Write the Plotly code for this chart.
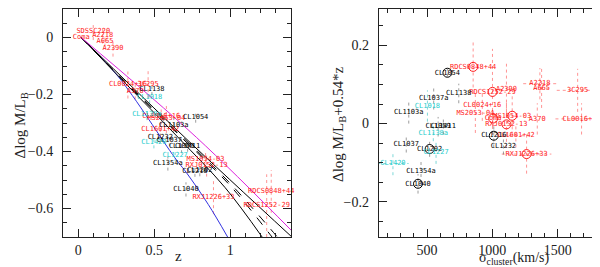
import plotly.graph_objects as go

# ---------------- Left panel data: redshift vs delta log M/L_B ----------------
left_names = ["Coma", "SDSSC220", "A2218", "A665", "A2390", "CL0024+16", "3C295", "A370",
              "MS2053-04", "CL0016+16", "CL1601+42", "MS1054-03", "RXJ0152-13",
              "RXJ1226+33", "RDCS0848+44", "RDCS1252-29",
              "CL1138", "CL1054", "CL1103a", "CL1232", "CL1037", "CL1059", "CL1411",
              "CL1354a", "CL1216", "CL1202", "CL1040",
              "CL1018", "CL1138a", "CL1420", "CL1227"]
left_z = [0.02, 0.099, 0.161, 0.176, 0.229, 0.327, 0.46, 0.375,
          0.58, 0.546, 0.54, 0.838, 0.845,
          0.89, 1.27, 1.24,
          0.485, 0.773, 0.629, 0.54, 0.60, 0.68, 0.72,
          0.59, 0.768, 0.80, 0.709,
          0.47, 0.452, 0.498, 0.638]
left_dml = [0.0, 0.021, 0.009, -0.012, -0.037, -0.164, -0.163, -0.187,
            -0.285, -0.275, -0.322, -0.428, -0.448,
            -0.56, -0.54, -0.59,
            -0.182, -0.279, -0.307, -0.349, -0.362, -0.381, -0.381,
            -0.442, -0.469, -0.467, -0.533,
            -0.211, -0.27, -0.369, -0.414]
left_err = [0.0, 0.03, 0.03, 0.02, 0.03, 0.05, 0.05, 0.03,
            0.05, 0.03, 0.03, 0.03, 0.04,
            0.06, 0.075, 0.11,
            0.02, 0.02, 0.025, 0.02, 0.02, 0.025, 0.02,
            0.025, 0.02, 0.02, 0.025,
            0.02, 0.02, 0.02, 0.02]
left_group = ["r"] * 16 + ["k"] * 11 + ["c"] * 4

# model curves
blue_z = [0.02, 0.26, 0.636, 0.713, 0.856, 0.983]
blue_y = [0.0, -0.135, -0.422, -0.475, -0.586, -0.70]
blackA_z = [0.02, 0.30, 0.658, 0.967, 1.21]
blackA_y = [0.0, -0.155, -0.351, -0.527, -0.70]
dash1_z = [0.02, 0.30, 0.68, 1.0, 1.275]
dash1_y = [0.0, -0.152, -0.351, -0.52, -0.70]
dash2_z = [0.02, 0.30, 0.69, 1.0, 1.31]
dash2_y = [0.0, -0.150, -0.351, -0.512, -0.70]
blackB_z = [0.02, 0.702, 1.406]
blackB_y = [0.0, -0.351, -0.70]
mag_z = [0.02, 0.779, 1.408]
mag_y = [0.0, -0.351, -0.68]

# ---------------- Right panel data: sigma vs corrected offset ----------------
right_names = ["RDCS0848+44", "RDCS1252-29", "A2390", "A2218", "A665", "3C295",
               "CL0024+16", "MS2053-04", "Coma", "MS1054-03", "RXJ0152-13", "A370",
               "CL0016+16", "CL1601+42", "RXJ1226+33",
               "CL1054", "CL1138", "CL1037a", "CL1103a", "CL1059", "CL1411", "CL1037",
               "CL1202", "CL1354a", "CL1040", "CL1232", "CL1216",
               "CL1018", "CL1138a", "CL1227", "CL1420"]
right_sigma = [853, 1001, 1108, 1364, 1377, 1653,
               923, 870, 1006, 1152, 1108, 1344,
               1683, 1180, 1262,
               656, 743, 551, 360, 585, 625, 341,
               520, 454, 431, 1085, 1011,
               503, 548, 569, 239]
right_val = [0.145, 0.081, 0.088, 0.102, 0.090, 0.085,
             0.047, 0.026, 0.013, 0.020, -0.002, 0.012,
             0.012, -0.031, -0.078,
             0.130, 0.077, 0.066, 0.030, -0.008, -0.008, -0.054,
             -0.065, -0.122, -0.154, -0.059, -0.031,
             0.045, -0.025, -0.073, -0.102]
right_err_v = [0.068, 0.11, 0.065, 0.04, 0.05, 0.055,
               0.04, 0.05, 0.02, 0.05, 0.06, 0.04,
               0.04, 0.03, 0.05,
               0.01, 0.025, 0.03, 0.03, 0.025, 0.02, 0.02,
               0.02, 0.03, 0.025, 0.02, 0.03,
               0.04, 0.02, 0.03, 0.03]
right_err_s = [0, 0, 0, 128, 60, 160,
               0, 0, 0, 0, 0, 0,
               200, 100, 190,
               0, 0, 0, 0, 0, 0, 0,
               0, 0, 0, 0, 0,
               0, 0, 0, 120]
right_circled = ["RDCS0848+44", "RDCS1252-29", "Coma", "MS1054-03", "RXJ0152-13",
                 "RXJ1226+33", "CL1054", "CL1202", "CL1040", "CL1216"]
right_group = ["r"] * 15 + ["k"] * 12 + ["c"] * 4

COL = {"r": "#ff1a1a", "k": "#000000", "c": "#22cccc"}
ECOL = {"r": "rgba(255,60,60,0.55)", "k": "rgba(60,60,60,0.5)", "c": "rgba(40,190,190,0.6)"}

LABEL_FONT = "DejaVu Sans Mono"
AX_FONT = "Liberation Serif"

fig = go.Figure()


def err_segments(xs, ys, ev, es, groups, g):
    sx, sy = [], []
    for x, y, e, h, gg in zip(xs, ys, ev, es, groups):
        if gg != g:
            continue
        if e > 0:
            sx += [x, x, None]
            sy += [y - e, y + e, None]
        if h > 0:
            sx += [x - h, x + h, None]
            sy += [y, y, None]
    return sx, sy


# ---- left panel error bars ----
for g in ["r", "k", "c"]:
    sx, sy = err_segments(left_z, left_dml, left_err, [0] * len(left_z), left_group, g)
    fig.add_trace(go.Scatter(x=sx, y=sy, mode="lines", xaxis="x", yaxis="y",
                             line=dict(color=ECOL[g], width=1, dash="dot"),
                             showlegend=False, hoverinfo="skip"))

# ---- left panel model curves ----
curves = [
    (blue_z, blue_y, "#3030e0", "solid"),
    (blackA_z, blackA_y, "#000000", "solid"),
    (dash1_z, dash1_y, "#000000", "dash"),
    (dash2_z, dash2_y, "#000000", "dash"),
    (blackB_z, blackB_y, "#000000", "solid"),
    (mag_z, mag_y, "#dd22dd", "solid"),
]
for cz, cy, c, d in curves:
    fig.add_trace(go.Scatter(x=cz, y=cy, mode="lines", xaxis="x", yaxis="y",
                             line=dict(color=c, width=1, dash=d, shape="spline"),
                             showlegend=False, hoverinfo="skip"))

# ---- left panel labels ----
for g in ["r", "k", "c"]:
    idx = [i for i, gg in enumerate(left_group) if gg == g]
    fig.add_trace(go.Scatter(
        x=[left_z[i] for i in idx], y=[left_dml[i] for i in idx],
        text=[left_names[i] for i in idx], mode="text", xaxis="x", yaxis="y",
        textposition="middle center", cliponaxis=False,
        textfont=dict(family=LABEL_FONT, size=7, color=COL[g]),
        showlegend=False))

# ---- right panel error bars ----
for g in ["r", "k", "c"]:
    sx, sy = err_segments(right_sigma, right_val, right_err_v, right_err_s, right_group, g)
    fig.add_trace(go.Scatter(x=sx, y=sy, mode="lines", xaxis="x2", yaxis="y2",
                             line=dict(color=ECOL[g], width=1, dash="dot"),
                             showlegend=False, hoverinfo="skip"))

# ---- right panel circles ----
for g in ["r", "k"]:
    idx = [i for i, n in enumerate(right_names) if n in right_circled and right_group[i] == g]
    fig.add_trace(go.Scatter(
        x=[right_sigma[i] for i in idx], y=[right_val[i] for i in idx],
        mode="markers", xaxis="x2", yaxis="y2",
        marker=dict(symbol="circle-open", size=9, color=COL[g], line=dict(width=1)),
        showlegend=False, hoverinfo="skip"))

# ---- right panel labels ----
for g in ["r", "k", "c"]:
    idx = [i for i, gg in enumerate(right_group) if gg == g]
    fig.add_trace(go.Scatter(
        x=[right_sigma[i] for i in idx], y=[right_val[i] for i in idx],
        text=[right_names[i] for i in idx], mode="text", xaxis="x2", yaxis="y2",
        textposition="middle center", cliponaxis=False,
        textfont=dict(family=LABEL_FONT, size=7, color=COL[g]),
        showlegend=False))

H = 267.0
W = 600.0
ydom = [1 - 229 / H, 1 - 1 / H]

axis_common = dict(showline=True, linecolor="#222", linewidth=1, mirror="ticks",
                   ticks="inside", ticklen=8, tickwidth=1, tickcolor="#222",
                   showgrid=False, zeroline=False,
                   tickfont=dict(family=AX_FONT, size=14, color="#222"))

fig.update_layout(
    width=600, height=267,
    margin=dict(l=0, r=0, t=0, b=0),
    paper_bgcolor="white", plot_bgcolor="white",
    showlegend=False,
    xaxis=dict(domain=[55 / W, 283 / W], range=[-0.1, 1.4], dtick=0.5, tick0=0,
               minor=dict(dtick=0.1, ticks="inside", ticklen=4, tickcolor="#222"),
               anchor="y", ticklabelstandoff=0, **axis_common),
    yaxis=dict(domain=ydom, range=[-0.7, 0.1], dtick=0.2, tick0=0,
               minor=dict(dtick=0.05, ticks="inside", ticklen=4, tickcolor="#222"),
               anchor="x", ticklabelstandoff=6, **axis_common),
    xaxis2=dict(domain=[370.7 / W, 598 / W], range=[130, 1870], dtick=500, tick0=0,
                minor=dict(dtick=100, ticks="inside", ticklen=4, tickcolor="#222"),
                anchor="y2", ticklabelstandoff=0, **axis_common),
    yaxis2=dict(domain=ydom, range=[-0.29, 0.293], dtick=0.2, tick0=0,
                minor=dict(dtick=0.05, ticks="inside", ticklen=4, tickcolor="#222"),
                anchor="x2", ticklabelstandoff=6, **axis_common),
)

title_font = dict(family=AX_FONT, size=15, color="#222")
fig.add_annotation(text="Δlog M/L<sub>B</sub>", xref="paper", yref="paper",
                   x=12.5 / W, y=1 - 118 / H, textangle=-90, showarrow=False,
                   font=title_font, xanchor="center", yanchor="middle")
fig.add_annotation(text="Δlog M/L<sub>B</sub>+0.54*z", xref="paper", yref="paper",
                   x=331 / W, y=1 - 117 / H, textangle=-90, showarrow=False,
                   font=title_font, xanchor="center", yanchor="middle")
fig.add_annotation(text="z", xref="paper", yref="paper",
                   x=170 / W, y=1 - 248 / H, showarrow=False,
                   font=title_font, xanchor="center", yanchor="middle")
fig.add_annotation(text="σ<sub>cluster</sub>(km/s)", xref="paper", yref="paper",
                   x=506 / W, y=1 - 250 / H, showarrow=False,
                   font=dict(family=AX_FONT, size=14, color="#222"),
                   xanchor="center", yanchor="middle")

fig.write_html("out.html")
